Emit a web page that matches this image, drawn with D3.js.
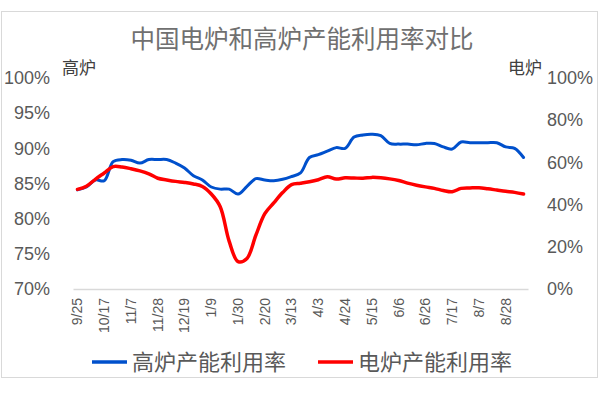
<!DOCTYPE html>
<html>
<head>
<meta charset="utf-8">
<script src="https://cdn.jsdelivr.net/npm/d3@7"></script>
<style>
  body { margin: 0; background: #fff; }
</style>
</head>
<body>
<script>
// weekly dates, 9/25 .. 9/11
let dates = ["9/25","10/3","10/10","10/17","10/24","10/31","11/7","11/14","11/21","11/28",
  "12/5","12/12","12/19","12/26","1/2","1/9","1/16","1/23","1/30","2/6",
  "2/13","2/20","2/27","3/6","3/13","3/20","3/27","4/3","4/10","4/17",
  "4/24","5/1","5/8","5/15","5/22","5/29","6/6","6/12","6/19","6/26",
  "7/3","7/10","7/17","7/24","7/31","8/7","8/14","8/21","8/28","9/4","9/11"];

// 高炉 (left axis, %)
let blastFurnace = [84.1,84.5,85.5,85.4,88.1,88.4,88.3,87.9,88.4,88.4,
  88.4,87.9,87.2,86.1,85.5,84.5,84.2,84.2,83.5,84.6,
  85.7,85.5,85.4,85.6,86.0,86.5,88.7,89.1,89.6,90.1,
  90.0,91.6,91.9,92.0,91.8,90.7,90.6,90.6,90.5,90.7,
  90.7,90.2,89.9,90.9,90.8,90.8,90.8,90.8,90.2,90.0,88.7];

// 电炉 (right axis, %)
let electricFurnace = [47.2,48.7,52.0,55.0,58.0,57.8,57.0,56.0,54.6,52.5,
  51.7,51.0,50.5,49.8,48.6,45.0,39.0,22.7,13.0,14.5,
  25.5,35.7,40.8,45.7,49.5,50.1,50.8,51.8,53.2,52.1,
  52.7,52.6,52.5,52.9,52.7,52.2,51.4,50.2,49.2,48.4,
  47.7,46.7,46.1,47.7,47.9,48.0,47.5,46.9,46.3,45.8,45.0];

let leftTicks = [70,75,80,85,90,95,100];
let rightTicks = [0,20,40,60,80,100];
let seriesNames = ["高炉产能利用率","电炉产能利用率"];

let canvasW = 600;
let canvasH = 399;
let textColor = "#595959";
let blue = "#0050CC";
let red = "#FF0000";
let cjk = "'Noto Sans CJK SC', sans-serif";
let num = "'Liberation Sans', sans-serif";

let plot = { left: 73, right: 528, top: 78, bottom: 289 };

let svg = d3.select("body")
  .append("svg")
    .attr("width", canvasW)
    .attr("height", canvasH);

svg.append("rect")
  .attr("x", 1.5).attr("y", 11.5)
  .attr("width", 596).attr("height", 366)
  .attr("fill", "#fff")
  .attr("stroke", "#D9D9D9");

let xScale = d3.scaleBand()
  .domain(dates)
  .range([plot.left, plot.right]);

let yLeft = d3.scaleLinear()
  .domain([70, 100])
  .range([plot.bottom, plot.top]);

let yRight = d3.scaleLinear()
  .domain([0, 100])
  .range([plot.bottom, plot.top]);

let xMid = d => xScale(d) + xScale.bandwidth() / 2;

// title
svg.append("text")
  .attr("x", 302)
  .attr("y", 48)
  .attr("text-anchor", "middle")
  .attr("font-family", cjk)
  .attr("font-size", "24.5px")
  .attr("fill", "#707070")
  .text("中国电炉和高炉产能利用率对比");

// axis titles
svg.append("text")
  .attr("x", 62).attr("y", 74)
  .attr("font-family", cjk)
  .attr("font-size", "17px")
  .attr("fill", "#404040")
  .text("高炉");

svg.append("text")
  .attr("x", 542).attr("y", 74)
  .attr("text-anchor", "end")
  .attr("font-family", cjk)
  .attr("font-size", "17px")
  .attr("fill", "#404040")
  .text("电炉");

// left axis
const leftAxis = svg.append("g")
  .attr("transform", "translate(" + plot.left + ",0)")
d3.axisLeft(yLeft).tickValues(leftTicks).tickSize(0).tickPadding(23)
  .tickFormat(d => d + "%")(leftAxis)
leftAxis.select(".domain").remove();
leftAxis.selectAll("text")
  .attr("font-family", num)
  .attr("font-size", "18px")
  .attr("fill", textColor);

// right axis
const rightAxis = svg.append("g")
  .attr("transform", "translate(" + plot.right + ",0)")
d3.axisRight(yRight).tickValues(rightTicks).tickSize(0).tickPadding(19)
  .tickFormat(d => d + "%")(rightAxis)
rightAxis.select(".domain").remove();
rightAxis.selectAll("text")
  .attr("font-family", num)
  .attr("font-size", "18px")
  .attr("fill", textColor);

// bottom axis, every third label
const xAxis = svg.append("g")
  .attr("transform", "translate(0," + plot.bottom + ")")
d3.axisBottom(xScale)
  .tickValues(dates.filter((d, i) => i % 3 === 0))
  .tickSize(0)(xAxis)
xAxis.select(".domain")
  .attr("stroke", "#D9D9D9")
  .attr("stroke-width", 1.3);
xAxis.selectAll("text")
  .attr("font-family", num)
  .attr("font-size", "14px")
  .attr("fill", textColor)
  .attr("text-anchor", "end")
  .attr("transform", "rotate(-90)")
  .attr("x", -9)
  .attr("y", 0)
  .attr("dy", "0.35em");

// lines
let blueLine = d3.line()
  .x((d, i) => xMid(dates[i]))
  .y(d => yLeft(d))
  .curve(d3.curveCatmullRom);

let redLine = d3.line()
  .x((d, i) => xMid(dates[i]))
  .y(d => yRight(d))
  .curve(d3.curveCatmullRom);

svg.append("path")
  .datum(blastFurnace)
  .attr("d", blueLine)
  .attr("fill", "none")
  .attr("stroke", blue)
  .attr("stroke-width", 3)
  .attr("stroke-linejoin", "round")
  .attr("stroke-linecap", "round");

svg.append("path")
  .datum(electricFurnace)
  .attr("d", redLine)
  .attr("fill", "none")
  .attr("stroke", red)
  .attr("stroke-width", 3.5)
  .attr("stroke-linejoin", "round")
  .attr("stroke-linecap", "round");

// legend
let legend = svg.selectAll(".legend")
  .data(seriesNames)
  .enter()
  .append("g")
    .attr("transform", (d, i) => "translate(" + (92 + i * 226) + ",362)");

legend.append("line")
  .attr("x1", 0).attr("x2", 35)
  .attr("stroke", (d, i) => i === 0 ? blue : red)
  .attr("stroke-width", 3.5);

legend.append("text")
  .attr("x", 40)
  .attr("y", 8)
  .attr("font-family", cjk)
  .attr("font-size", "22px")
  .attr("fill", textColor)
  .text(d => d);
</script>
</body>
</html>
